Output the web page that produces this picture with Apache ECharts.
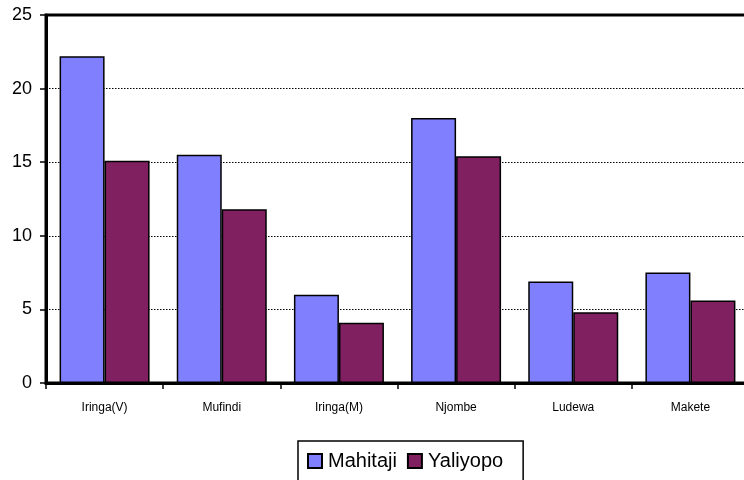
<!DOCTYPE html>
<html>
<head>
<meta charset="utf-8">
<script src="https://cdn.jsdelivr.net/npm/echarts@6/dist/echarts.min.js"></script>
<style>
  html, body { margin: 0; padding: 0; background: #fff; }
  #chart { width: 744px; height: 480px; }
</style>
</head>
<body>
<div id="chart"></div>
<script>
const districts = ['Iringa(V)', 'Mufindi', 'Iringa(M)', 'Njombe', 'Ludewa', 'Makete']
const mahitaji = [22.2, 15.5, 6.0, 18.0, 6.9, 7.5]
const yaliyopo = [15.1, 11.8, 4.1, 15.4, 4.8, 5.6]

const font = 'Liberation Sans, Arial, sans-serif'
const barEdge = { borderColor: '#000', borderWidth: 1.5 }

const chart = echarts.init(document.getElementById('chart'))
chart.setOption({
  animation: false,
  grid: {
    left: 46, width: 703, top: 15, bottom: 97,
    outerBoundsMode: 'none', containLabel: false,
    show: true, borderColor: '#000', borderWidth: 3, backgroundColor: 'transparent'
  },
  legend: {
    left: 298, top: 441,
    padding: [10, 20, 10, 9],
    borderColor: '#000', borderWidth: 1.5,
    itemWidth: 14, itemHeight: 14, itemGap: 10,
    icon: 'rect',
    textStyle: { fontFamily: font, fontSize: 20, color: '#000', padding: [0, 0, 0, 1] },
    data: ['Mahitaji', 'Yaliyopo']
  },
  xAxis: {
    type: 'category',
    data: districts,
    axisLine: { lineStyle: { color: '#000', width: 3 } },
    axisTick: { show: true, length: 6, lineStyle: { color: '#000', width: 1.5 } },
    axisLabel: { fontFamily: font, fontSize: 12, color: '#000', margin: 19 },
    splitLine: { show: false }
  },
  yAxis: {
    type: 'value',
    min: 0, max: 25, interval: 5,
    axisLine: { show: true, lineStyle: { color: '#000', width: 3 } },
    axisTick: { show: true, length: 6, lineStyle: { color: '#000', width: 1.5 } },
    axisLabel: { fontFamily: font, fontSize: 18, color: '#000', margin: 14 },
    splitLine: { lineStyle: { color: '#000', width: 1, type: [1.5, 1.5] } }
  },
  series: [
    {
      name: 'Mahitaji', type: 'bar', data: mahitaji,
      barWidth: 45, barGap: '0%',
      itemStyle: { color: '#8080ff', ...barEdge }
    },
    {
      name: 'Yaliyopo', type: 'bar', data: yaliyopo,
      barWidth: 45, barGap: '0%',
      itemStyle: { color: '#802060', ...barEdge }
    }
  ]
})
</script>
</body>
</html>
